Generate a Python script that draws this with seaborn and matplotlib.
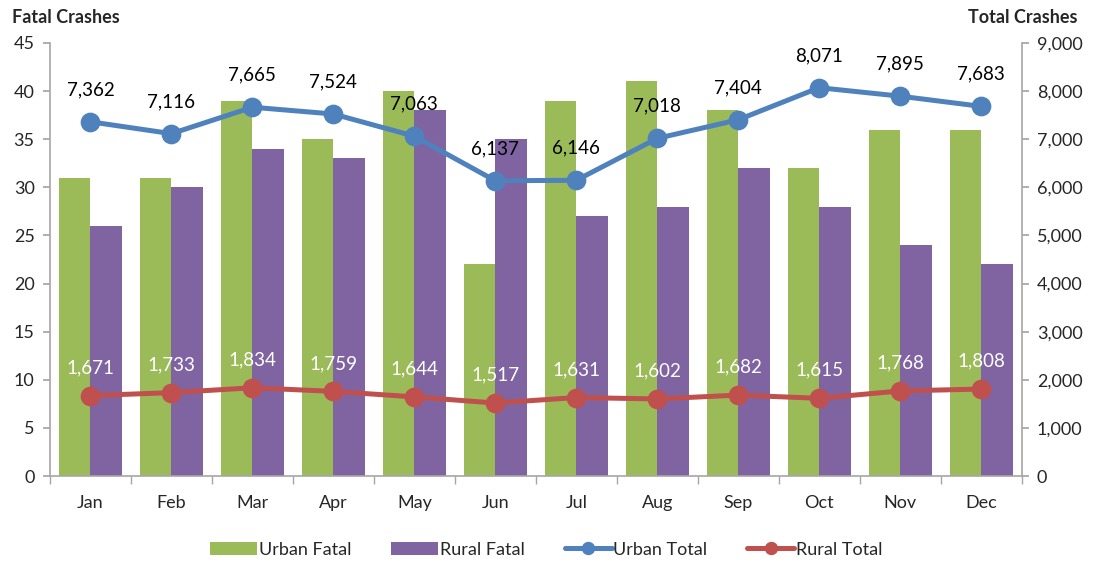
import matplotlib
matplotlib.use('Agg')
from matplotlib import pyplot as plt
from matplotlib.ticker import FuncFormatter, MultipleLocator, FixedLocator
import seaborn as sns
import pandas as pd

sns.set_theme(style='white')
plt.rcParams['font.family'] = ['Lato', 'DejaVu Sans']

months = ['Jan', 'Feb', 'Mar', 'Apr', 'May', 'Jun', 'Jul', 'Aug', 'Sep', 'Oct', 'Nov', 'Dec']
urban_fatal = [31, 31, 39, 35, 40, 22, 39, 41, 38, 32, 36, 36]
rural_fatal = [26, 30, 34, 33, 38, 35, 27, 28, 32, 28, 24, 22]
urban_total = [7362, 7116, 7665, 7524, 7063, 6137, 6146, 7018, 7404, 8071, 7895, 7683]
rural_total = [1671, 1733, 1834, 1759, 1644, 1517, 1631, 1602, 1682, 1615, 1768, 1808]

green, purple, blue, red = '#9BBB59', '#8064A2', '#4F81BD', '#C0504D'
grey = '#A6A6A6'

bars = pd.DataFrame({
    'month': months * 2,
    'value': urban_fatal + rural_fatal,
    'series': ['Urban Fatal'] * 12 + ['Rural Fatal'] * 12,
})
totals = pd.DataFrame({
    'month': months * 2,
    'value': urban_total + rural_total,
    'series': ['Urban Total'] * 12 + ['Rural Total'] * 12,
})

fig = plt.figure(figsize=(10.93, 5.62), dpi=100)
ax = fig.add_axes([0.0457, 0.153, 0.889, 0.7705])
sns.barplot(data=bars, x='month', y='value', hue='series', order=months,
            palette=[green, purple], width=0.78, gap=0, saturation=1,
            linewidth=0, edgecolor='none', ax=ax)

ax2 = ax.twinx()
sns.pointplot(data=totals, x='month', y='value', hue='series', order=months,
              palette=[blue, red], markers='o', markersize=11.5, linewidth=3.6,
              errorbar=None, ax=ax2)

h1, l1 = ax.get_legend_handles_labels()
h2, l2 = ax2.get_legend_handles_labels()
for a in (ax, ax2):
    if a.get_legend():
        a.get_legend().remove()

ax.set_ylim(0, 45)
ax.yaxis.set_major_locator(MultipleLocator(5))
ax2.set_ylim(0, 9000)
ax2.yaxis.set_major_locator(MultipleLocator(1000))
ax2.yaxis.set_major_formatter(FuncFormatter(lambda v, p: f'{int(v):,}'))
ax.set_xlim(-0.5, 11.5)

for a in (ax, ax2):
    a.set_xlabel('')
    a.set_ylabel('')
    for s in a.spines.values():
        s.set_visible(False)
    a.grid(False)

ax.spines['left'].set_visible(True)
ax.spines['bottom'].set_visible(True)
ax2.spines['right'].set_visible(True)
for s in (ax.spines['left'], ax.spines['bottom'], ax2.spines['right']):
    s.set_color(grey)
    s.set_linewidth(1.2)

ax.tick_params(axis='y', which='major', direction='out', length=5, color=grey,
               labelsize=13, left=True, pad=6)
ax2.tick_params(axis='y', which='major', direction='out', length=5, color=grey,
                labelsize=13, right=True, pad=6)
ax.xaxis.set_minor_locator(FixedLocator([i - 0.5 for i in range(13)]))
ax.tick_params(axis='x', which='major', length=0, labelsize=13, pad=14)
ax.tick_params(axis='x', which='minor', direction='out', length=6, color=grey, bottom=True)
ax2.tick_params(axis='x', length=0)

for i, v in enumerate(urban_total):
    ax2.annotate(f'{v:,}', (i, v), xytext=(0, 17), textcoords='offset points',
                 ha='center', va='bottom', fontsize=13.5, color='black')
for i, v in enumerate(rural_total):
    ax2.annotate(f'{v:,}', (i, v), xytext=(0, 14), textcoords='offset points',
                 ha='center', va='bottom', fontsize=13.5, color='white')

fig.text(0.011, 0.968, 'Fatal Crashes', fontsize=13, fontweight='bold', ha='left', va='center')
fig.text(0.986, 0.968, 'Total Crashes', fontsize=13, fontweight='bold', ha='right', va='center')

fig.legend(h1 + h2, l1 + l2, loc='center', bbox_to_anchor=(0.5, 0.022), ncol=4,
           frameon=False, fontsize=13, handlelength=2.6, handletextpad=0.1,
           columnspacing=2.2, markerscale=0.6)

plt.savefig('out.png', dpi=100)
